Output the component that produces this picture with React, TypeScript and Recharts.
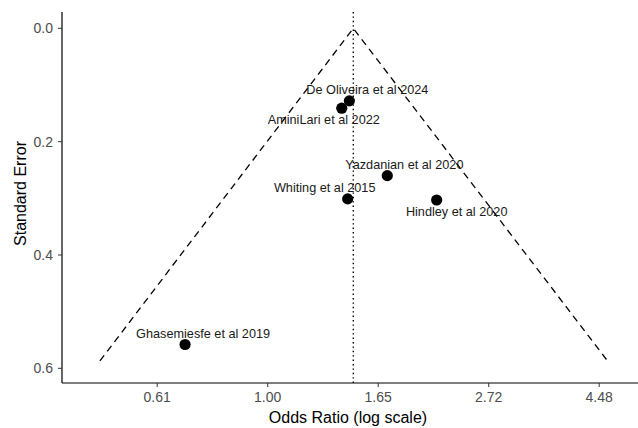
import React from 'react';
import { ScatterChart, Scatter, XAxis, YAxis, ReferenceLine, Label } from 'recharts';

// ---- data ----
const studies = [
  'De Oliveira et al 2024',
  'AminiLari et al 2022',
  'Yazdanian et al 2020',
  'Whiting et al 2015',
  'Hindley et al 2020',
  'Ghasemiesfe et al 2019',
];
const oddsRatios = [1.447, 1.398, 1.718, 1.436, 2.148, 0.688];
const standardErrors = [0.128, 0.141, 0.26, 0.301, 0.303, 0.558];
const pooledOR = 1.473;
const funnelOR = [0.468, 1.473, 4.655];
const funnelSE = [0.587, 0, 0.587];
const xTicks = [0.6065, 1, 1.6487, 2.7183, 4.4817];
const yTicks = [0, 0.2, 0.4, 0.6];

// ---- layout for text labels (not data) ----
const labelOffsets: number[][] = [
  [18, -11],
  [-18, 12],
  [17, -11],
  [-23, -11],
  [20, 12],
  [18, -11],
];

const points = studies.map((s, i) => ({ study: s, or: oddsRatios[i], se: standardErrors[i], idx: i }));
const funnel = funnelOR.map((v, i) => ({ or: v, se: funnelSE[i] }));

const FONT = '"Liberation Sans", Arial, Helvetica, sans-serif';

const PointShape = (props: any) => {
  const { cx, cy, payload } = props;
  if (cx == null || cy == null) return <g />;
  const off = labelOffsets[payload.idx] || [0, 0];
  return (
    <g>
      <circle cx={cx} cy={cy} r={5.6} fill="#000" />
      <text
        x={cx + off[0]}
        y={cy + off[1]}
        textAnchor="middle"
        dominantBaseline="central"
        fontFamily={FONT}
        fontSize={12.7}
        fill="#1a1a1a"
      >
        {payload.study}
      </text>
    </g>
  );
};

const YTitle = (props: any) => {
  const vb = props.viewBox || { x: 0, y: 12, width: 62, height: 371 };
  const cx = vb.x + 20;
  const cy = vb.y + vb.height / 2 - 4;
  return (
    <text
      x={cx}
      y={cy}
      transform={`rotate(-90 ${cx} ${cy})`}
      textAnchor="middle"
      dominantBaseline="central"
      fontFamily={FONT}
      fontSize={16}
      fill="#000"
    >
      Standard Error
    </text>
  );
};

const XTitle = (props: any) => {
  const vb = props.viewBox || { x: 62, y: 383, width: 576, height: 45 };
  const cx = vb.x + vb.width / 2 - 2;
  const cy = vb.y + 34;
  return (
    <text
      x={cx}
      y={cy}
      textAnchor="middle"
      dominantBaseline="central"
      fontFamily={FONT}
      fontSize={16}
      fill="#000"
    >
      Odds Ratio (log scale)
    </text>
  );
};

export default function App() {
  return (
    <div style={{ position: 'absolute', left: 0, top: 0, width: 638, height: 428, background: '#fff' }}>
      <ScatterChart width={638} height={428} margin={{ top: 12, right: 0, bottom: 0, left: 0 }}>
        <XAxis
          type="number"
          dataKey="or"
          scale="log"
          domain={[0.3942, 5.342]}
          allowDataOverflow
          ticks={xTicks}
          interval={0}
          tickFormatter={(v: number) => v.toFixed(2)}
          height={45}
          tickSize={4}
          tickMargin={5}
          axisLine={{ stroke: '#000', strokeWidth: 1.2 }}
          tickLine={{ stroke: '#333', strokeWidth: 1 }}
          tick={{ fill: '#4d4d4d', fontSize: 14, fontFamily: FONT }}
        >
          <Label content={<XTitle />} />
        </XAxis>
        <YAxis
          type="number"
          dataKey="se"
          domain={[-0.0288, 0.6259]}
          allowDataOverflow
          reversed
          ticks={yTicks}
          interval={0}
          tickFormatter={(v: number) => v.toFixed(1)}
          width={62}
          tickSize={4}
          tickMargin={5}
          axisLine={{ stroke: '#000', strokeWidth: 1.2 }}
          tickLine={{ stroke: '#333', strokeWidth: 1 }}
          tick={{ fill: '#4d4d4d', fontSize: 14, fontFamily: FONT }}
        >
          <Label content={<YTitle />} />
        </YAxis>
        <Scatter
          data={funnel}
          line={{ stroke: '#000', strokeWidth: 1.3, strokeDasharray: '7 5' }}
          shape={() => <g />}
          isAnimationActive={false}
        />
        <ReferenceLine x={pooledOR} stroke="#000" strokeWidth={1.4} strokeDasharray="1.4 3" />
        <Scatter data={points} shape={<PointShape />} isAnimationActive={false} />
      </ScatterChart>
    </div>
  );
}
